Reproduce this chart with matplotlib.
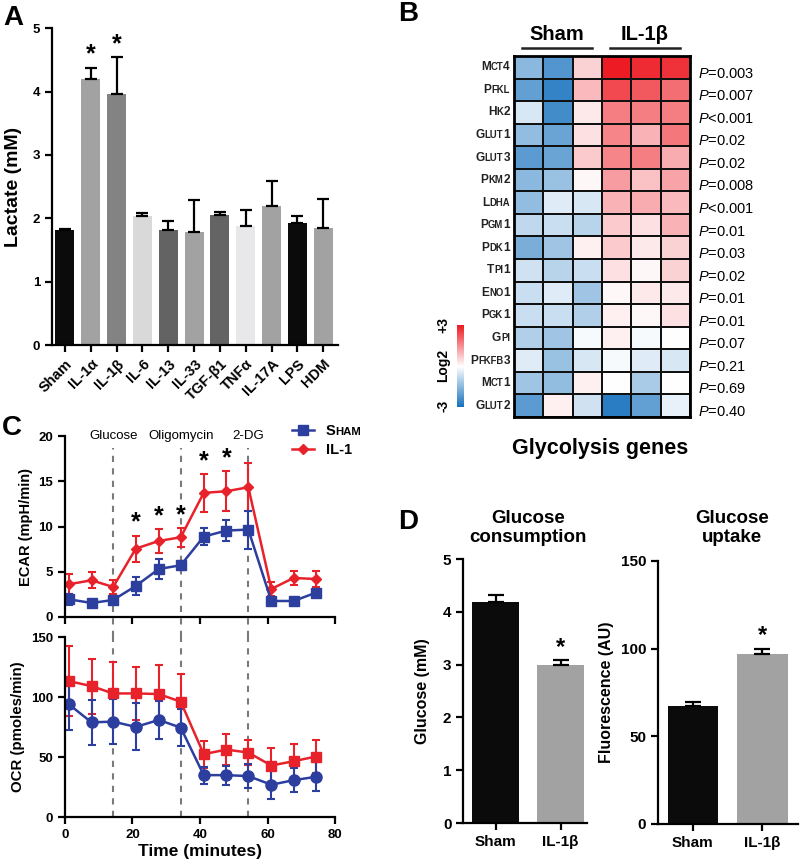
import numpy as np
import matplotlib
matplotlib.use("Agg")
import matplotlib.pyplot as plt
from matplotlib.colors import LinearSegmentedColormap
from matplotlib.offsetbox import TextArea, HPacker, AnnotationBbox
from matplotlib.lines import Line2D

plt.rcParams['font.family'] = ['Liberation Sans', 'DejaVu Sans']
plt.rcParams['font.weight'] = 'bold'
plt.rcParams['axes.labelweight'] = 'bold'
plt.rcParams['mathtext.fontset'] = 'custom'
plt.rcParams['mathtext.rm'] = 'Liberation Sans:normal'
plt.rcParams['mathtext.it'] = 'Liberation Sans:italic:normal'
plt.rcParams['axes.linewidth'] = 1.6

# ---------------- A: lactate
lact_groups = ['Sham', 'IL-1α', 'IL-1β', 'IL-6', 'IL-13', 'IL-33', 'TGF-β1', 'TNFα', 'IL-17A', 'LPS', 'HDM']
lact_mean = [1.81, 4.20, 3.96, 2.03, 1.81, 1.79, 2.05, 1.88, 2.19, 1.93, 1.84]
lact_err = [0.02, 0.17, 0.58, 0.06, 0.14, 0.50, 0.05, 0.25, 0.40, 0.11, 0.47]
lact_colors = ['#0b0b0b', '#a2a2a2', '#838383', '#d9d9d9', '#636363', '#a2a2a2',
               '#646464', '#e8e8ea', '#a2a2a2', '#0b0b0b', '#a2a2a2']
lact_sig = [False, True, True, False, False, False, False, False, False, False, False]

# ---------------- B: heatmap
genes = ['Mct4', 'Pfkl', 'Hk2', 'Glut1', 'Glut3', 'Pkm2', 'Ldha', 'Pgm1',
         'Pdk1', 'Tpi1', 'Eno1', 'Pgk1', 'Gpi', 'Pfkfb3', 'Mct1', 'Glut2']
heat_groups = ['Sham', 'IL-1β']
heat_vals = [
    [-1.5, -2.2, 0.6, 3.0, 2.8, 2.7],
    [-2.0, -2.6, 0.9, 2.4, 2.2, 1.9],
    [-0.5, -2.4, 0.3, 1.7, 1.7, 1.7],
    [-1.4, -1.9, 0.4, 1.6, 1.0, 1.8],
    [-2.1, -1.9, 0.7, 1.6, 1.7, 1.1],
    [-1.5, -1.3, 0.1, 1.3, 0.8, 1.2],
    [-1.4, -0.4, -0.5, 1.0, 1.1, 0.9],
    [-0.8, -0.7, -0.9, 0.7, 0.4, 1.0],
    [-1.7, -1.2, 0.2, 0.7, 0.3, 0.6],
    [-0.6, -0.9, -0.7, 0.4, 0.1, 0.6],
    [-0.7, -0.4, -1.2, 0.1, 0.3, 0.3],
    [-0.7, -0.7, -1.0, 0.2, 0.1, 0.4],
    [-1.0, -1.2, -0.1, 0.2, -0.1, 0.0],
    [-0.4, -1.3, -0.5, -0.1, -0.4, -0.5],
    [-1.2, -1.4, 0.2, 0.0, -1.1, 0.0],
    [-2.1, 0.2, -0.6, -2.7, -2.0, -0.3],
]
pvals = ['=0.003', '=0.007', '<0.001', '=0.02', '=0.02', '=0.008', '<0.001', '=0.01',
         '=0.03', '=0.02', '=0.01', '=0.01', '=0.07', '=0.21', '=0.69', '=0.40']

# ---------------- C: seahorse
times = [1.2, 7.9, 14.3, 21.0, 27.8, 34.3, 41.1, 47.8, 54.3, 61.1, 67.7, 74.3]
ecar_sham = [1.96, 1.55, 1.88, 3.43, 5.31, 5.72, 8.89, 9.56, 9.67, 1.77, 1.77, 2.69]
ecar_sham_err = [0.6, 0.3, 0.3, 1.0, 1.1, 0.5, 0.9, 1.2, 2.1, 0.3, 0.3, 0.4]
ecar_il1 = [3.62, 4.06, 3.32, 7.56, 8.41, 8.82, 13.73, 13.91, 14.35, 3.10, 4.32, 4.20]
ecar_il1_err = [1.1, 0.9, 0.75, 1.45, 1.3, 1.05, 2.1, 2.2, 2.65, 0.8, 0.75, 0.9]
ecar_sig = [False, False, False, True, True, True, True, True, False, False, False, False]
ocr_sham = [93.9, 78.9, 79.5, 75.1, 80.9, 74.5, 34.9, 34.9, 34.1, 26.9, 30.7, 33.5]
ocr_sham_err = [21, 19, 19, 19.6, 15.5, 15.2, 7, 8, 10, 12, 10, 12]
ocr_il1 = [113.3, 109.1, 103.0, 103.0, 102.5, 96.1, 52.4, 56.2, 53.7, 42.9, 46.5, 50.4]
ocr_il1_err = [29, 23, 26, 22, 24, 23, 11.3, 13, 10.6, 14.4, 14.5, 14]
inj_names = ['Glucose', 'Oligomycin', '2-DG']
inj_times = [14.3, 34.3, 54.3]

# ---------------- D: glucose
d_groups = ['Sham', 'IL-1β']
gluc_cons = [4.18, 3.00]
gluc_cons_err = [0.14, 0.08]
gluc_upt = [67.0, 97.0]
gluc_upt_err = [2.5, 3.0]
d_colors = ['#0b0b0b', '#a2a2a2']

blue = '#2c3e9e'
red = '#e8222a'


def prism(ax, labelsize=9.5):
    ax.spines['top'].set_visible(False)
    ax.spines['right'].set_visible(False)
    ax.tick_params(width=1.6, length=5, labelsize=labelsize, direction='out')


def smallcaps(word, size, weight='normal', ratio=0.76, color='black'):
    # lowercase letters become small capitals, the rest stays full size
    runs = []
    for ch in word:
        small = ch.islower()
        if runs and runs[-1][1] == small:
            runs[-1][0] += ch
        else:
            runs.append([ch, small])
    kids = [TextArea(t.upper() if s else t,
                     textprops=dict(fontsize=size * ratio if s else size,
                                    fontweight=weight, color=color))
            for t, s in runs]
    return HPacker(children=kids, align='baseline', pad=0, sep=0)


fig = plt.figure(figsize=(8, 8.61), dpi=100)

# ================= A
axA = fig.add_axes([0.065, 0.5993, 0.3575, 0.368])
xa = np.arange(len(lact_groups))
axA.bar(xa, lact_mean, width=0.74, color=lact_colors)
axA.errorbar(xa, lact_mean, yerr=[np.zeros(len(xa)), lact_err], fmt='none',
             ecolor='black', elinewidth=1.6, capsize=4, capthick=1.6)
for i in range(len(xa)):
    if lact_sig[i]:
        axA.text(xa[i], lact_mean[i] + lact_err[i] + 0.02, '*', ha='center', va='bottom', fontsize=18)
axA.set_xlim(-0.5, 10.57)
axA.set_ylim(0, 5)
axA.set_yticks([0, 1, 2, 3, 4, 5])
axA.set_xticks(xa)
axA.set_xticklabels(lact_groups, rotation=45, ha='right', rotation_mode='anchor')
axA.set_ylabel('Lactate (mM)', fontsize=14, labelpad=8)
prism(axA)
axA.tick_params(axis='x', labelsize=10.5)

# ================= B
axB = fig.add_axes([0.6425, 0.5157, 0.22, 0.4193])
cmap = LinearSegmentedColormap.from_list('heat', ['#1570bd', '#ffffff', '#ed1c24'])
mesh = axB.pcolormesh(np.array(heat_vals), cmap=cmap, vmin=-3, vmax=3,
                      edgecolors='#111111', linewidth=1.2)
axB.set_xlim(0, 6)
axB.set_ylim(len(genes), 0)
axB.set_xticks([])
axB.set_yticks([])
for sp in axB.spines.values():
    sp.set_linewidth(2)
for i, g in enumerate(genes):
    ab = AnnotationBbox(smallcaps(g, 8.6, 'bold', 0.8, '#222222'), (-0.14, i + 0.5),
                        xycoords='data', box_alignment=(1, 0.5), frameon=False,
                        annotation_clip=False)
    axB.add_artist(ab)
    axB.text(6.27, i + 0.78, '$P$' + pvals[i], ha='left', va='center',
             fontsize=10.5, fontweight='normal')
for k, name in enumerate(heat_groups):
    x0, x1 = 3 * k + 0.27, 3 * k + 2.66
    axB.plot([x0, x1], [-0.35, -0.35], color='#222222', lw=1.8, clip_on=False)
    axB.text((x0 + x1) / 2, -0.95, name, ha='center', va='center', fontsize=14.5)
fig.text(0.75, 1 - 448 / 861, 'Glycolysis genes', ha='center', va='center', fontsize=15.5)

cax = fig.add_axes([0.571, 0.527, 0.009, 0.095])
cb = fig.colorbar(mesh, cax=cax)
cb.set_ticks([])
cb.outline.set_visible(False)
fig.text(443 / 800, 1 - 325 / 861, '+3', rotation=90, ha='center', va='center', fontsize=10)
fig.text(443 / 800, 1 - 365 / 861, 'Log2', rotation=90, ha='center', va='center', fontsize=10)
fig.text(443 / 800, 1 - 406 / 861, '-3', rotation=90, ha='center', va='center', fontsize=10)

# ================= C
axC1 = fig.add_axes([0.081, 0.2834, 0.338, 0.210])
axC2 = fig.add_axes([0.081, 0.0511, 0.338, 0.209])
ebkw = dict(lw=1.8, elinewidth=1.5, capsize=3, capthick=1.5)
axC1.errorbar(times, ecar_il1, yerr=ecar_il1_err, color=red, marker='D', ms=5.5, **ebkw)
axC1.errorbar(times, ecar_sham, yerr=ecar_sham_err, color=blue, marker='s', ms=7.5, **ebkw)
for i in range(len(times)):
    if ecar_sig[i]:
        axC1.text(times[i], ecar_il1[i] + ecar_il1_err[i] + 0.1, '*', ha='center',
                  va='bottom', fontsize=18)
axC2.errorbar(times, ocr_il1, yerr=ocr_il1_err, color=red, marker='s', ms=7.5, **ebkw)
axC2.errorbar(times, ocr_sham, yerr=ocr_sham_err, color=blue, marker='o', ms=8, **ebkw)

for t, name in zip(inj_times, inj_names):
    axC1.axvline(t, ymin=-0.11, ymax=0.935, color='#7a7a7a', ls=(0, (3, 3)), lw=1.5,
                 clip_on=False, zorder=0)
    axC2.axvline(t, ymin=0, ymax=1, color='#7a7a7a', ls=(0, (3, 3)), lw=1.5, zorder=0)
    axC1.text(t, 20, name, ha='center', va='center', fontsize=9.5, fontweight='normal')

axC1.set_xlim(0, 80)
axC1.set_ylim(0, 20)
axC1.set_yticks([0, 5, 10, 15, 20])
axC1.set_xticks([0, 20, 40, 60, 80])
axC1.tick_params(labelbottom=False)
axC1.set_ylabel('ECAR (mpH/min)', fontsize=10.5, labelpad=4)
prism(axC1)
axC2.set_xlim(0, 80)
axC2.set_ylim(0, 150)
axC2.set_yticks([0, 50, 100, 150])
axC2.set_xticks([0, 20, 40, 60, 80])
axC2.set_ylabel('OCR (pmoles/min)', fontsize=10.8, labelpad=4)
axC2.set_xlabel('Time (minutes)', fontsize=12.5, labelpad=2)
prism(axC2)

handles = [Line2D([], [], color=blue, marker='s', ms=7, lw=1.8),
           Line2D([], [], color=red, marker='D', ms=5.5, lw=1.8)]
leg = axC1.legend(handles, ['Sham', 'IL-1'], loc='upper left', bbox_to_anchor=(0.82, 1.10),
                  frameon=False, fontsize=10.5, handlelength=1.5, handletextpad=0.8,
                  labelspacing=0.35, borderaxespad=0)
sham_txt = leg.get_texts()[0]
sham_txt.set_alpha(0)

# ================= D
axD1 = fig.add_axes([0.579, 0.0441, 0.155, 0.3066])
xd = np.arange(len(d_groups))
axD1.bar(xd, gluc_cons, width=0.72, color=d_colors)
axD1.errorbar(xd, gluc_cons, yerr=[np.zeros(2), gluc_cons_err], fmt='none', ecolor='black',
              elinewidth=1.6, capsize=6, capthick=1.6)
axD1.text(xd[1], gluc_cons[1] + gluc_cons_err[1] + 0.03, '*', ha='center', va='bottom', fontsize=17)
axD1.set_xlim(-0.5, 1.41)
axD1.set_ylim(0, 5)
axD1.set_yticks([0, 1, 2, 3, 4, 5])
axD1.set_xticks(xd)
axD1.set_xticklabels(d_groups)
axD1.set_ylabel('Glucose (mM)', fontsize=11.5, labelpad=9)
prism(axD1, 11)

axD2 = fig.add_axes([0.8225, 0.043, 0.175, 0.3055])
axD2.bar(xd, gluc_upt, width=0.72, color=d_colors)
axD2.errorbar(xd, gluc_upt, yerr=[np.zeros(2), gluc_upt_err], fmt='none', ecolor='black',
              elinewidth=1.6, capsize=6, capthick=1.6)
axD2.text(xd[1], gluc_upt[1] + gluc_upt_err[1] + 1, '*', ha='center', va='bottom', fontsize=17)
axD2.set_xlim(-0.5, 1.51)
axD2.set_ylim(0, 150)
axD2.set_yticks([0, 50, 100, 150])
axD2.set_xticks(xd)
axD2.set_xticklabels(d_groups)
axD2.set_ylabel('Fluorescence (AU)', fontsize=11.5, labelpad=5)
prism(axD2, 11)

fig.text(528 / 800, 1 - 528 / 861, 'Glucose\nconsumption', ha='center', va='center',
         fontsize=13.5, linespacing=1.15)
fig.text(732 / 800, 1 - 528 / 861, 'Glucose\nuptake', ha='center', va='center',
         fontsize=13.5, linespacing=1.15)

# panel letters
for lab, x, y in [('A', 3, 18), ('B', 398, 14), ('C', 2, 428), ('D', 398, 522)]:
    fig.text(x / 800, 1 - y / 861, lab, ha='left', va='center', fontsize=20)

# small-caps legend label placed where the hidden legend text sits
fig.canvas.draw()
bb = sham_txt.get_window_extent().transformed(fig.transFigure.inverted())
fig.add_artist(AnnotationBbox(smallcaps('Sham', 10.5, 'bold', 0.78), (bb.x0, (bb.y0 + bb.y1) / 2),
                              xycoords='figure fraction', box_alignment=(0, 0.5),
                              frameon=False, annotation_clip=False))

fig.savefig('out.png', dpi=100)
